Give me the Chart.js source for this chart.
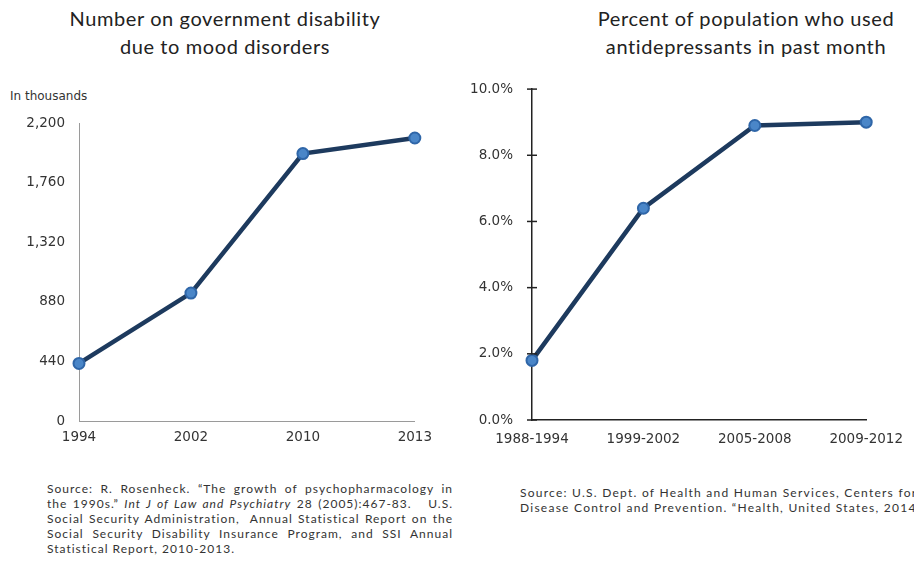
<!DOCTYPE html>
<html>
<head>
<meta charset="utf-8">
<script src="https://cdn.jsdelivr.net/npm/chart.js@4/dist/chart.umd.min.js"></script>
<style>
  html, body { margin:0; padding:0; background:#fff; width:914px; height:571px; overflow:hidden; position:relative; }
  .title { position:absolute; font-family:"Lato", sans-serif; font-size:20px; letter-spacing:0.6px; line-height:28px; color:#222; text-align:center; white-space:nowrap; }
  .src { position:absolute; font-family:"Lato", sans-serif; font-size:12px; letter-spacing:1.0px; line-height:15px; color:#333; }
  .src div { text-align:justify; text-align-last:justify; white-space:nowrap; }
  .src div.last { text-align-last:left; }
  .unit { position:absolute; left:10px; top:89px; font-family:"DejaVu Sans", sans-serif; font-size:12px; color:#333; }
</style>
</head>
<body>
<div class="title" style="left:65px; width:320px; top:4px;">Number on government disability<br>due to mood disorders</div>
<div class="title" style="left:586px; width:320px; top:4px;">Percent of population who used<br>antidepressants in past month</div>
<div class="unit">In thousands</div>
<div style="position:absolute; left:0; top:101px; width:440px; height:349px;"><canvas id="c1"></canvas></div>
<div style="position:absolute; left:450px; top:62px; width:464px; height:390px;"><canvas id="c2"></canvas></div>
<div class="src" style="left:47px; top:481px; width:406px;">
  <div>Source: R. Rosenheck. “The growth of psychopharmacology in</div>
  <div>the 1990s.” <i>Int J of Law and Psychiatry</i> 28 (2005):467-83.&nbsp;&nbsp; U.S.</div>
  <div>Social Security Administration,&nbsp; Annual Statistical Report on the</div>
  <div>Social Security Disability Insurance Program, and SSI Annual</div>
  <div class="last">Statistical Report, 2010-2013.</div>
</div>
<div class="src" style="left:520px; top:485px; width:480px; letter-spacing:1.25px;">
  <div class="last">Source: U.S. Dept. of Health and Human Services, Centers for</div>
  <div class="last">Disease Control and Prevention. “Health, United States, 2014.”</div>
</div>
<script>
const leftYears = ['1994', '2002', '2010', '2013'];
const disabilityThousands = [425, 945, 1975, 2090];
const leftTicks = [0, 440, 880, 1320, 1760, 2200];

const rightPeriods = ['1988-1994', '1999-2002', '2005-2008', '2009-2012'];
const antidepressantPct = [1.8, 6.4, 8.9, 9.0];
const rightTicks = [0, 2, 4, 6, 8, 10];

const LINE = '#1d3a5e';
const PT_FILL = '#4a86c8';
const PT_BORDER = '#2f66a8';
const tickFont = { family: '"DejaVu Sans", sans-serif', size: 13.5 };

function dataset(values) {
  return {
    data: values,
    borderColor: LINE,
    borderWidth: 4.5,
    pointRadius: 5.5,
    pointBorderWidth: 2,
    pointBackgroundColor: PT_FILL,
    pointBorderColor: PT_BORDER,
    tension: 0,
    clip: false
  };
}

new Chart(document.getElementById('c1'), {
  type: 'line',
  data: { labels: leftYears, datasets: [dataset(disabilityThousands)] },
  options: {
    responsive: true, maintainAspectRatio: false, animation: false,
    layout: { padding: { top: 3, right: 25, left: 0, bottom: 0 } },
    plugins: { legend: { display: false }, tooltip: { enabled: false } },
    scales: {
      x: {
        offset: false,
        grid: { display: false, drawTicks: false },
        border: { display: true, color: '#9a9a9a', width: 1 },
        ticks: { font: tickFont, color: '#333', padding: 8, maxRotation: 0 },
        afterFit: s => { s.height = 29; }
      },
      y: {
        min: 0, max: 2200,
        grid: { display: false, drawTicks: false },
        border: { display: true, color: '#9a9a9a', width: 1 },
        afterBuildTicks: s => { s.ticks = leftTicks.map(v => ({ value: v })); },
        ticks: { font: tickFont, color: '#333', padding: 14,
                 callback: v => v.toLocaleString('en-US') },
        afterFit: s => { s.width = 79; }
      }
    }
  }
});

const crossTicks = {
  id: 'crossTicks',
  afterDraw(chart) {
    const y = chart.scales.y;
    const ctx = chart.ctx;
    ctx.save();
    ctx.strokeStyle = '#222';
    ctx.lineWidth = 1.5;
    y.ticks.forEach(t => {
      const py = y.getPixelForValue(t.value);
      ctx.beginPath();
      ctx.moveTo(y.right - 5, py);
      ctx.lineTo(y.right + 5, py);
      ctx.stroke();
    });
    ctx.restore();
  }
};

new Chart(document.getElementById('c2'), {
  type: 'line',
  data: { labels: rightPeriods, datasets: [dataset(antidepressantPct)] },
  plugins: [crossTicks],
  options: {
    responsive: true, maintainAspectRatio: false, animation: false,
    layout: { padding: { top: 0, right: 46, left: 0, bottom: 0 } },
    plugins: { legend: { display: false }, tooltip: { enabled: false } },
    scales: {
      x: {
        offset: false,
        grid: { display: false, drawTicks: false },
        border: { display: true, color: '#222', width: 1.5 },
        ticks: { font: tickFont, color: '#333', padding: 11, maxRotation: 0 },
        afterFit: s => { s.height = 32; }
      },
      y: {
        min: 0, max: 10,
        grid: { display: false, drawTicks: false },
        border: { display: true, color: '#222', width: 1.5 },
        afterBuildTicks: s => { s.ticks = rightTicks.map(v => ({ value: v })); },
        ticks: { font: tickFont, color: '#333', padding: 19,
                 callback: v => Number(v).toFixed(1) + '%' },
        afterFit: s => { s.width = 82; }
      }
    }
  }
});
</script>
</body>
</html>
